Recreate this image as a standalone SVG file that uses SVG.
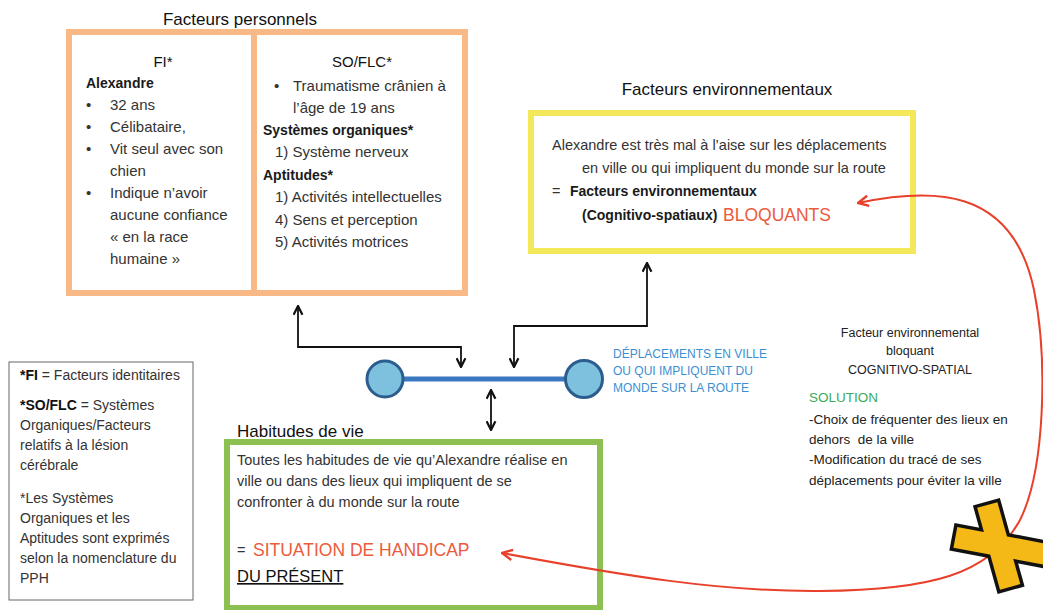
<svg xmlns="http://www.w3.org/2000/svg" width="1043" height="610" viewBox="0 0 1043 610">
<style>
text{font-family:"Liberation Sans",Arial,sans-serif;fill:#333}
.t{font-size:17px;fill:#111}
.b{font-size:15px}
.bb{font-size:14px;font-weight:bold;fill:#1a1a1a}
.m{font-size:14.5px}
.lg{font-size:14px}
.lgb{font-size:14px;font-weight:bold;fill:#111}
.red{fill:#EC5B3C;font-size:17.5px}
.blue{fill:#3C8FD2;font-size:12px}
.rs{font-size:12.5px;fill:#222}
.rs2{font-size:13.5px;fill:#222}
.conn{fill:none;stroke:#111;stroke-width:1.8}
</style>
<defs>
<marker id="ah" viewBox="0 0 10 10" refX="9" refY="5" markerWidth="11" markerHeight="11" markerUnits="userSpaceOnUse" orient="auto-start-reverse">
<path d="M1,1 L9,5 L1,9" fill="none" stroke="#111" stroke-width="2"/>
</marker>
<marker id="rh" viewBox="0 0 10 10" refX="9" refY="5" markerWidth="13" markerHeight="13" markerUnits="userSpaceOnUse" orient="auto-start-reverse">
<path d="M1,1 L9,5 L1,9" fill="none" stroke="#E8402A" stroke-width="1.8"/>
</marker>
</defs>
<rect width="1043" height="610" fill="#fff"/>

<g id="facteurs-personnels">
<text class="t" x="240" y="25" text-anchor="middle">Facteurs personnels</text>
<rect x="69" y="32" width="396" height="261" fill="none" stroke="#F8B987" stroke-width="6"/>
<line x1="254" y1="32" x2="254" y2="293" stroke="#F8B987" stroke-width="6"/>
<text class="b" x="163" y="67" text-anchor="middle" style="fill:#111">FI*</text>
<text class="bb" x="86" y="88">Alexandre</text>
<text class="b" x="86" y="110">•</text><text class="b" x="110" y="110">32 ans</text>
<text class="b" x="86" y="132">•</text><text class="b" x="110" y="132">Célibataire,</text>
<text class="b" x="86" y="154">•</text><text class="b" x="110" y="154">Vit seul avec son</text>
<text class="b" x="110" y="176">chien</text>
<text class="b" x="86" y="198">•</text><text class="b" x="110" y="198">Indique n’avoir</text>
<text class="b" x="110" y="220">aucune confiance</text>
<text class="b" x="110" y="242">« en la race</text>
<text class="b" x="110" y="264">humaine »</text>
<text class="b" x="362" y="67" text-anchor="middle" style="fill:#111">SO/FLC*</text>
<text class="b" x="274" y="91">•</text><text class="b" x="293" y="91">Traumatisme crânien à</text>
<text class="b" x="293" y="113">l’âge de 19 ans</text>
<text class="bb" x="263" y="135">Systèmes organiques*</text>
<text class="b" x="275" y="157">1) Système nerveux</text>
<text class="bb" x="263" y="180">Aptitudes*</text>
<text class="b" x="275" y="202">1) Activités intellectuelles</text>
<text class="b" x="275" y="225">4) Sens et perception</text>
<text class="b" x="275" y="247">5) Activités motrices</text>
</g>

<g id="facteurs-environnementaux">
<text class="t" x="727" y="95" text-anchor="middle">Facteurs environnementaux</text>
<rect x="531" y="113" width="382" height="138" fill="none" stroke="#F2E85A" stroke-width="6"/>
<text class="m" x="552" y="150">Alexandre est très mal à l’aise sur les déplacements</text>
<text class="m" x="582" y="173">en ville ou qui impliquent du monde sur la route</text>
<text class="m" x="552" y="196">=</text>
<text class="bb" x="570" y="196">Facteurs environnementaux</text>
<text class="bb" x="582" y="220">(Cognitivo-spatiaux)</text>
<text class="red" x="723" y="221">BLOQUANTS</text>
</g>

<g id="deplacements">
<line x1="403" y1="379" x2="566" y2="379" stroke="#3A78C0" stroke-width="5"/>
<circle cx="385" cy="379" r="18" fill="#7EC1DE" stroke="#2B5E8E" stroke-width="3"/>
<circle cx="584" cy="379" r="18.5" fill="#7EC1DE" stroke="#2B5E8E" stroke-width="3"/>
<text class="blue" x="613" y="358">DÉPLACEMENTS EN VILLE</text>
<text class="blue" x="613" y="375">OU QUI IMPLIQUENT DU</text>
<text class="blue" x="613" y="392">MONDE SUR LA ROUTE</text>
</g>

<g id="habitudes-de-vie">
<text class="t" x="237" y="437">Habitudes de vie</text>
<rect x="227" y="442" width="373" height="166" fill="none" stroke="#8CC152" stroke-width="6"/>
<text class="m" x="237" y="465">Toutes les habitudes de vie qu’Alexandre réalise en</text>
<text class="m" x="237" y="486">ville ou dans des lieux qui impliquent de se</text>
<text class="m" x="237" y="507">confronter à du monde sur la route</text>
<text class="m" x="237" y="555">=</text>
<text class="red" x="253" y="556">SITUATION DE HANDICAP</text>
<text x="237" y="582" style="font-size:16.5px;fill:#111;text-decoration:underline">DU PRÉSENT</text>
</g>

<g id="legende">
<rect x="9" y="362" width="184" height="238" fill="none" stroke="#666" stroke-width="1"/>
<text class="lg" x="20" y="380"><tspan class="lgb">*FI</tspan> = Facteurs identitaires</text>
<text class="lg" x="20" y="410"><tspan class="lgb">*SO/FLC</tspan> = Systèmes</text>
<text class="lg" x="20" y="430">Organiques/Facteurs</text>
<text class="lg" x="20" y="450">relatifs à la lésion</text>
<text class="lg" x="20" y="470">cérébrale</text>
<text class="lg" x="20" y="503">*Les Systèmes</text>
<text class="lg" x="20" y="523">Organiques et les</text>
<text class="lg" x="20" y="543">Aptitudes sont exprimés</text>
<text class="lg" x="20" y="563">selon la nomenclature du</text>
<text class="lg" x="20" y="583">PPH</text>
</g>

<g id="solution">
<text class="rs" x="910" y="337" text-anchor="middle">Facteur environnemental</text>
<text class="rs" x="910" y="355" text-anchor="middle">bloquant</text>
<text class="rs" x="910" y="374" text-anchor="middle">COGNITIVO-SPATIAL</text>
<text class="rs2" x="809" y="402" style="fill:#3BAA5A">SOLUTION</text>
<text class="rs2" x="809" y="424">-Choix de fréquenter des lieux en</text>
<text class="rs2" x="809" y="444" xml:space="preserve">dehors  de la ville</text>
<text class="rs2" x="809" y="464">-Modification du tracé de ses</text>
<text class="rs2" x="809" y="485">déplacements pour éviter la ville</text>
</g>

<g id="connecteurs">
<path class="conn" d="M298,306 V347 H461 V367" marker-start="url(#ah)" marker-end="url(#ah)"/>
<path class="conn" d="M647,263 V326 H514 V367" marker-start="url(#ah)" marker-end="url(#ah)"/>
<path class="conn" d="M491,390 V430" marker-start="url(#ah)" marker-end="url(#ah)"/>
<path d="M858,203 C930,188 1012,185 1034,290 C1048,360 1045,470 1020,520 C990,575 930,590 820,591 C720,592 620,575 502,553" fill="none" stroke="#E8402A" stroke-width="2" marker-start="url(#rh)" marker-end="url(#rh)"/>
</g>

<g id="croix" transform="translate(998.6,545.5)">
<rect x="-42" y="-10.5" width="85" height="21" transform="rotate(74.4)" fill="#F4B817" stroke="#111" stroke-width="7"/>
<rect x="-44" y="-10.5" width="96" height="21" transform="rotate(10.7)" fill="#F4B817" stroke="#111" stroke-width="7"/>
<rect x="-42" y="-10.5" width="85" height="21" transform="rotate(74.4)" fill="#F4B817"/>
<rect x="-44" y="-10.5" width="96" height="21" transform="rotate(10.7)" fill="#F4B817"/>
</g>
</svg>
